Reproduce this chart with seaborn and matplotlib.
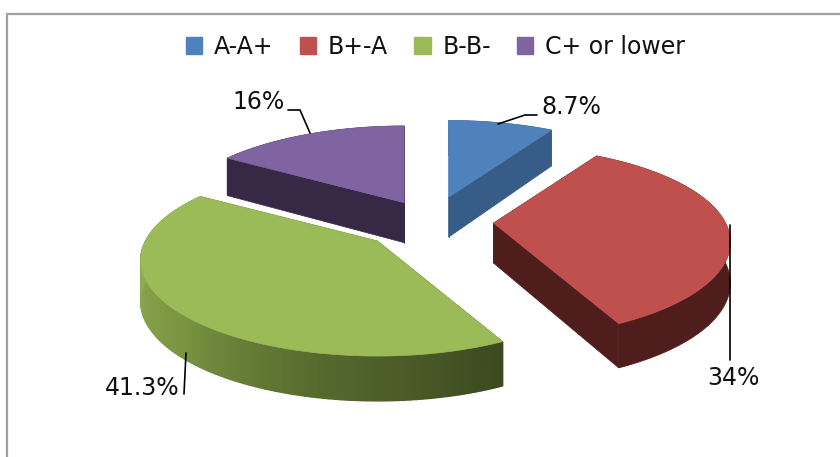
########################################################
# Required Python Packages
########################################################

import numpy as np
import matplotlib
matplotlib.use("Agg")
import matplotlib.pyplot as plt
from matplotlib.patches import Patch, Polygon, Rectangle
import seaborn as sns

########################################################
# Chart Data
########################################################

CATEGORIES = ["A-A+", "B+-A", "B-B-", "C+ or lower"]
VALUES = [8.7, 34, 41.3, 16]
TOP_COLORS = ["#4F81BD", "#C0504D", "#9BBB59", "#8064A2"]
SIDE_COLORS = ["#375C88", "#4F1E1C", "#4E6029", "#372845"]

# label anchor and leader line for every slice
LABEL_XY = [(571, 107), (733, 378), (142, 388), (259, 102)]
LEADERS = [
    [(498, 124), (525, 115), (537, 115)],
    [(730, 225), (730, 360)],
    [(186, 353), (184, 394)],
    [(310, 133), (300, 110), (288, 110)],
]

########################################################
# Pie Geometry (pixels, with a slight perspective)
########################################################

CENTER = (431, 222)
WIDTH = 232
HEIGHT = 92
PERSPECTIVE = 0.2
EXPLODE = [0.28, 0.27, 0.31, 0.24]
DEPTH = 40

def Project(theta):
    scale = 1 + PERSPECTIVE * np.cos(theta)
    return WIDTH * np.sin(theta) / scale, -HEIGHT * np.cos(theta) / scale

def Draw_Slice(ax, start, end, explode, top_color, side_color, gradient=False):
    mid = (start + end) / 2
    apex = np.array([CENTER[0] + explode * WIDTH * np.sin(mid),
                     CENTER[1] - explode * HEIGHT * np.cos(mid)])
    thetas = np.linspace(start, end, 121)
    x, y = Project(thetas)
    arc = np.column_stack([apex[0] + x, apex[1] + y])

    # the rim gets a bit taller towards the viewer
    drop = np.column_stack([np.zeros(len(arc)), DEPTH * (1 - 0.12 * np.cos(thetas))])
    lower = arc + drop
    apex_low = apex + np.array([0, DEPTH])

    # radial faces first, the rim next, the top last
    for i in (0, -1):
        face = [apex, arc[i], lower[i], apex_low]
        ax.add_patch(Polygon(face, facecolor=side_color, edgecolor=side_color, lw=0.5))

    if gradient:
        stops = ["#3C4A20", "#55692D", "#7A9642", "#8DAB50", "#8DAB50"]
        rim_colors = sns.blend_palette(stops, len(arc) - 1)
        for i in range(len(arc) - 1):
            quad = [arc[i], arc[i + 1], lower[i + 1], lower[i]]
            ax.add_patch(Polygon(quad, facecolor=rim_colors[i], edgecolor=rim_colors[i], lw=1.0))
    else:
        rim = np.vstack([arc, lower[::-1]])
        ax.add_patch(Polygon(rim, facecolor=side_color, edgecolor=side_color, lw=0.5))

    ax.add_patch(Polygon(np.vstack([apex, arc]), facecolor=top_color, edgecolor=top_color, lw=0.5))

########################################################
# Main Execution
########################################################

def main():
    sns.set_theme(style="white")
    plt.rcParams["font.family"] = ["DejaVu Sans"]

    fig = plt.figure(figsize=(8.4, 4.57), dpi=100)
    ax = fig.add_axes([0, 0, 1, 1])
    ax.set_xlim(0, 840)
    ax.set_ylim(457, 0)
    ax.axis("off")

    # chart frame runs off the right and bottom of the picture
    ax.add_patch(Rectangle((7, 14), 900, 500, facecolor="white", edgecolor="#A0A0A0", lw=1.6))

    shares = np.array(VALUES) / sum(VALUES) * 2 * np.pi
    ends = np.cumsum(shares)
    starts = ends - shares

    # back slices first so the front ones cover them
    for i in [3, 0, 1, 2]:
        Draw_Slice(ax, starts[i], ends[i], EXPLODE[i], TOP_COLORS[i], SIDE_COLORS[i], gradient=(i == 2))

    for value, xy, leader in zip(VALUES, LABEL_XY, LEADERS):
        ax.text(xy[0], xy[1], f"{value:g}%", fontsize=17, color="#111111", ha="center", va="center")
        ax.plot([p[0] for p in leader], [p[1] for p in leader], color="black", lw=1.2)

    handles = [Patch(facecolor=c, edgecolor=c) for c in TOP_COLORS]
    ax.legend(handles, CATEGORIES, ncol=4, loc="center", bbox_to_anchor=(435.5 / 840, 1 - 47 / 457),
              frameon=False, fontsize=17, handlelength=0.7, handleheight=0.7,
              handletextpad=0.5, columnspacing=1.1, labelcolor="#111111")

    fig.savefig("out.png", dpi=100)

if __name__ == "__main__":
    main()
